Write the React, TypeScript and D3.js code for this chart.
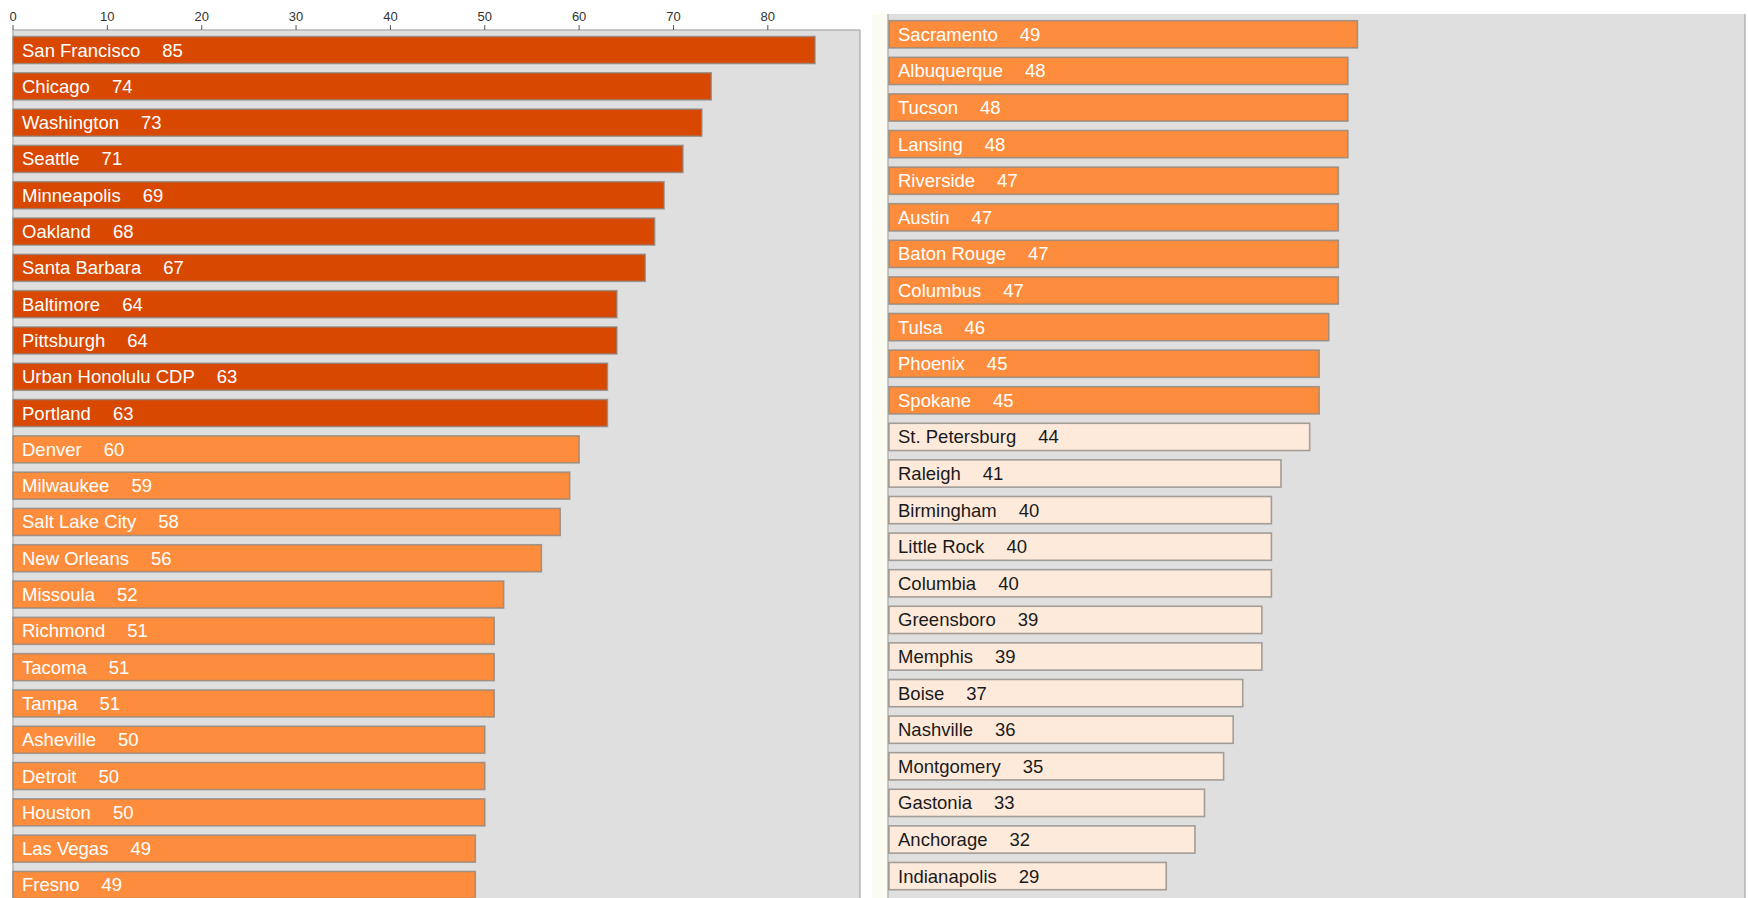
import React from "react";
import * as d3 from "d3";

const leftCities = ["San Francisco","Chicago","Washington","Seattle","Minneapolis","Oakland","Santa Barbara","Baltimore","Pittsburgh","Urban Honolulu CDP","Portland","Denver","Milwaukee","Salt Lake City","New Orleans","Missoula","Richmond","Tacoma","Tampa","Asheville","Detroit","Houston","Las Vegas","Fresno"];
const leftValues = [85,74,73,71,69,68,67,64,64,63,63,60,59,58,56,52,51,51,51,50,50,50,49,49];
const rightCities = ["Sacramento","Albuquerque","Tucson","Lansing","Riverside","Austin","Baton Rouge","Columbus","Tulsa","Phoenix","Spokane","St. Petersburg","Raleigh","Birmingham","Little Rock","Columbia","Greensboro","Memphis","Boise","Nashville","Montgomery","Gastonia","Anchorage","Indianapolis"];
const rightValues = [49,48,48,48,47,47,47,47,46,45,45,44,41,40,40,40,39,39,37,36,35,33,32,29];
const tickValues = [0,10,20,30,40,50,60,70,80];

const color = d3.scaleThreshold<number, string>().domain([45, 62]).range(["#feeadb", "#fd8d3c", "#d94801"]);
const textColor = d3.scaleThreshold<number, string>().domain([45]).range(["#1a1a1a", "#fff"]);

const FONT = "'Liberation Sans', Arial, sans-serif";

function Panel({ cities, values, x, y, px0, px1, py0, py1, topStroke }: any) {
  return (
    <g>
      <rect x={px0} y={py0} width={px1 - px0} height={py1 - py0} fill="#dfdfdf" />
      <line x1={px0} x2={px0} y1={py0} y2={py1} stroke="#b5b5b5" strokeWidth={1.5} />
      <line x1={px1} x2={px1} y1={py0} y2={py1} stroke="#b5b5b5" strokeWidth={1.5} />
      {topStroke && <line x1={px0} x2={px1} y1={py0} y2={py0} stroke="#b5b5b5" strokeWidth={1.5} />}
      {cities.map((c: string, i: number) => {
        const v = values[i];
        const y0 = y(c);
        const bw = y.bandwidth();
        return (
          <g key={c}>
            <rect x={x(0)} y={y0} width={x(v) - x(0)} height={bw} fill={color(v)} stroke="#8a8580" strokeOpacity={0.75} strokeWidth={1.6} />
            <text x={x(0) + 9} y={y0 + bw / 2} dy="0.35em" fill={textColor(v)} fontFamily={FONT} fontSize={18.5}>
              {c}
              <tspan dx={22}>{v}</tspan>
            </text>
          </g>
        );
      })}
    </g>
  );
}

export default function App() {
  const W = 1748, H = 898;
  const xL = d3.scaleLinear().domain([0, 85]).range([13, 815]);
  const yL = d3.scaleBand<string>().domain(leftCities).range([30, 905]).paddingInner(0.256).paddingOuter(0.18);
  const xR = d3.scaleLinear().domain([0, 50]).range([889, 889 + 478]);
  const yR = d3.scaleBand<string>().domain(rightCities).range([14, 896.4]).paddingInner(0.256).paddingOuter(0.183);
  return (
    <svg width={W} height={H} style={{ position: "absolute", left: 0, top: 0, background: "#fff" }}>
      <rect x={872} y={14} width={17} height={H} fill="#fbfbf2" />
      <Panel cities={leftCities} values={leftValues} x={xL} y={yL} px0={13} px1={860} py0={30} py1={H + 10} topStroke={true} />
      <Panel cities={rightCities} values={rightValues} x={xR} y={yR} px0={888} px1={1745} py0={14} py1={H + 10} topStroke={false} />
      <g>
        {tickValues.map((t) => (
          <g key={t} transform={`translate(${xL(t)},0)`}>
            <line y1={25} y2={30} stroke="#555" strokeWidth={1} />
            <text y={21} textAnchor="middle" fontFamily={FONT} fontSize={13} fill="#333">{t}</text>
          </g>
        ))}
      </g>
    </svg>
  );
}
